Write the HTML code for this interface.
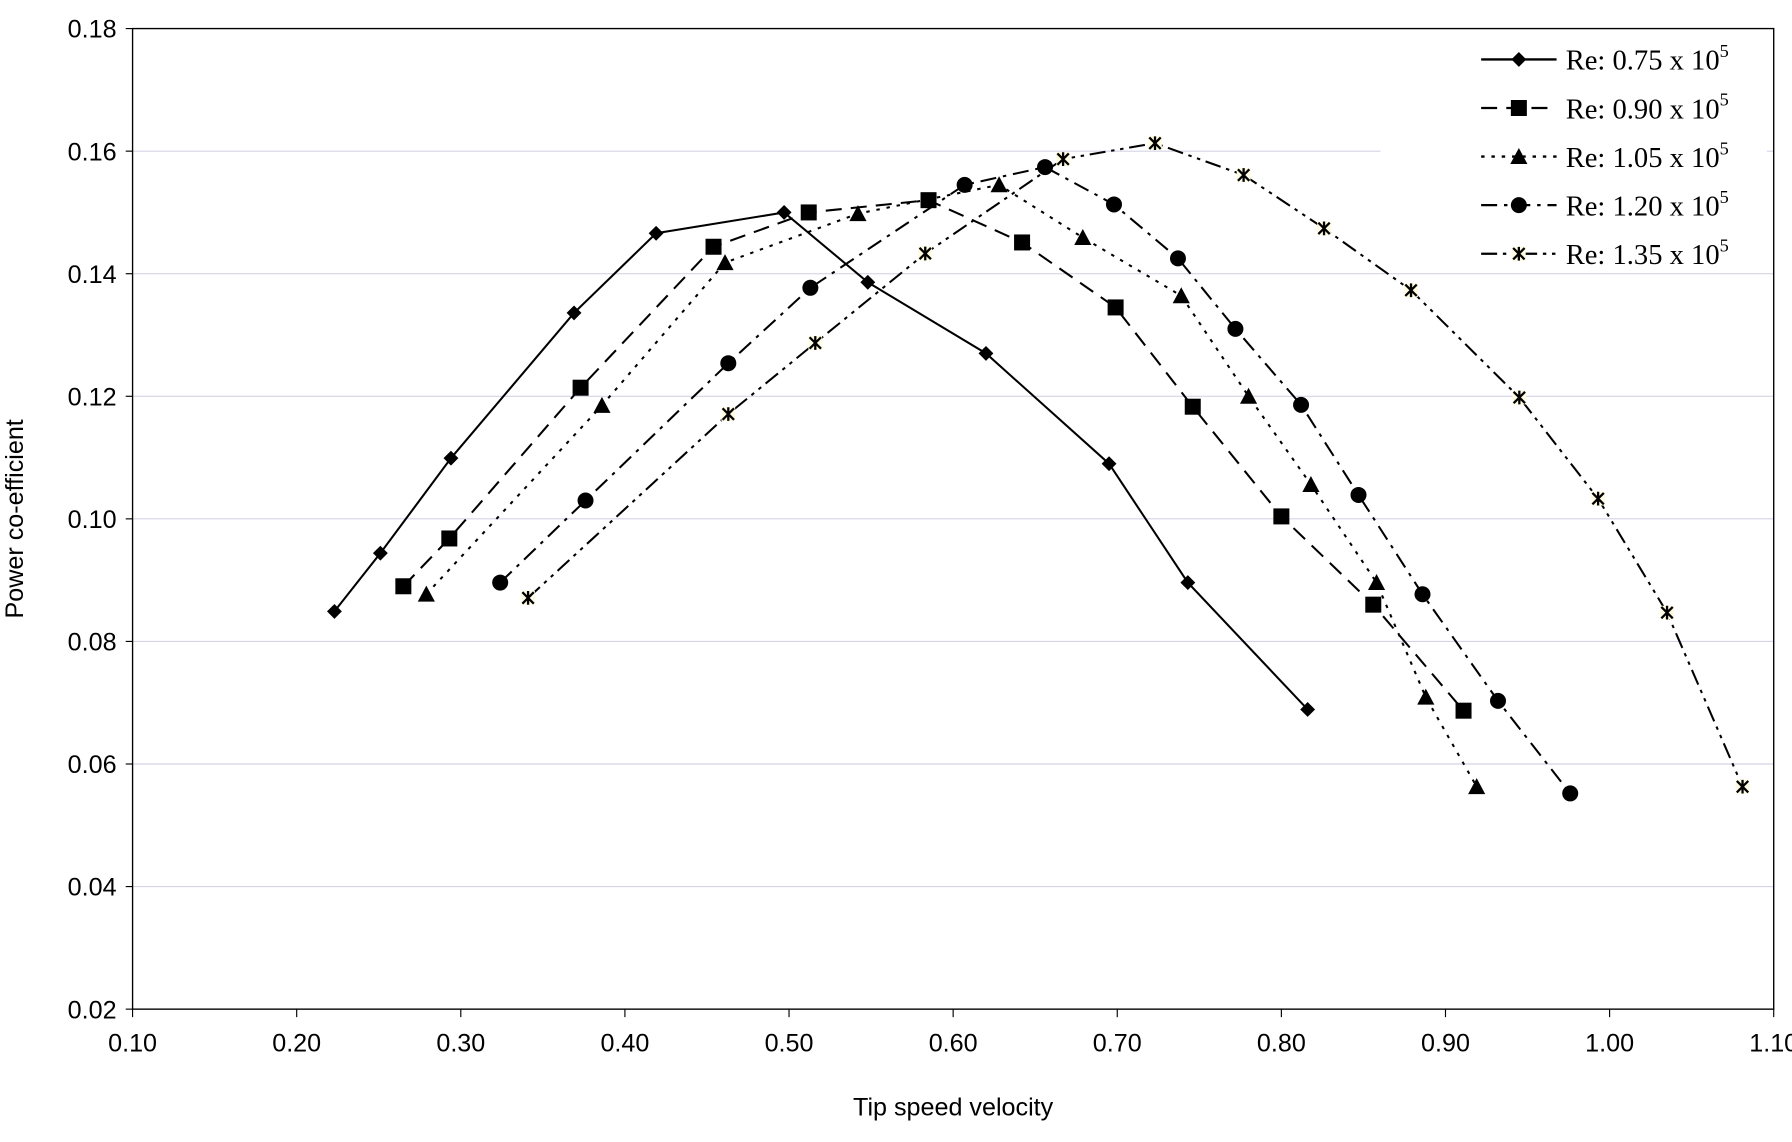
<!DOCTYPE html>
<html><head><meta charset="utf-8"><style>
html,body{margin:0;padding:0;background:#fff;}
svg{display:block;}
.tick{font-family:"Liberation Sans",sans-serif;font-size:22px;fill:#000;}
.leg{font-family:"Liberation Serif",serif;font-size:25px;fill:#000;}
</style></head><body>
<svg id="chart" width="1792" height="1142" viewBox="0 0 1568 999.25" xmlns="http://www.w3.org/2000/svg">
<g id="grid"></g>
<rect x="1208" y="30" width="338" height="196" fill="#fff"/>
<rect x="116" y="25" width="1436" height="858" fill="none" stroke="#000" stroke-width="1.2"/>
<g id="axes"></g>
<g id="series"></g>
<g id="legend"></g>
<text class="tick" x="834" y="976" text-anchor="middle">Tip speed velocity</text>
<text class="tick" transform="translate(20,454) rotate(-90)" text-anchor="middle">Power co-efficient</text>
</svg>
<script>
const xTicks=[0.10,0.20,0.30,0.40,0.50,0.60,0.70,0.80,0.90,1.00,1.10];
const yTicks=[0.02,0.04,0.06,0.08,0.10,0.12,0.14,0.16,0.18];
const seriesNames=["Re: 0.75 x 10","Re: 0.90 x 10","Re: 1.05 x 10","Re: 1.20 x 10","Re: 1.35 x 10"];
const x1=[0.223,0.251,0.294,0.369,0.419,0.497,0.548,0.620,0.695,0.743,0.816];
const y1=[0.0849,0.0944,0.1099,0.1336,0.1466,0.150,0.1386,0.127,0.109,0.0896,0.0689];
const x2=[0.265,0.293,0.373,0.454,0.512,0.585,0.642,0.699,0.746,0.800,0.856,0.911];
const y2=[0.089,0.0968,0.1214,0.1444,0.150,0.152,0.1451,0.1345,0.1183,0.1004,0.086,0.0687];
const x3=[0.279,0.386,0.461,0.542,0.628,0.679,0.739,0.780,0.818,0.858,0.888,0.919];
const y3=[0.0877,0.1185,0.1418,0.1498,0.1545,0.1459,0.1364,0.120,0.1056,0.0896,0.0709,0.0563];
const x4=[0.324,0.376,0.463,0.513,0.607,0.656,0.698,0.737,0.772,0.812,0.847,0.886,0.932,0.976];
const y4=[0.0896,0.103,0.1254,0.1377,0.1545,0.1574,0.1513,0.1425,0.131,0.1186,0.1039,0.0877,0.0703,0.0552];
const x5=[0.341,0.463,0.516,0.583,0.667,0.723,0.777,0.826,0.879,0.945,0.993,1.035,1.081];
const y5=[0.0871,0.1171,0.1287,0.1433,0.1587,0.1613,0.1561,0.1474,0.1373,0.1198,0.1033,0.0847,0.0563];

const NS="http://www.w3.org/2000/svg";
const L=116,R=1552,T=25,B=883;
function sx(v){return L+(v-0.1)/1.0*(R-L);}
function sy(v){return B-(v-0.02)/0.16*(B-T);}
function mk(tag,attrs,parent){const e=document.createElementNS(NS,tag);for(const k in attrs)e.setAttribute(k,attrs[k]);parent.appendChild(e);return e;}
const grid=document.getElementById('grid'),axes=document.getElementById('axes'),ser=document.getElementById('series'),leg=document.getElementById('legend');
yTicks.forEach(v=>{
  if(v>0.02&&v<0.18){const g=mk('line',{x1:L,x2:R,y1:sy(v),y2:sy(v),stroke:'#d4d4e6','stroke-width':1},grid);
  
  }
  const t=mk('line',{x1:L-6,x2:L,y1:sy(v),y2:sy(v),stroke:'#000'},axes);
  
  
  const tx=mk('text',{x:L-14,y:sy(v)+8,'text-anchor':'end',class:'tick'},axes);tx.textContent=v.toFixed(2);
  
  
});
xTicks.forEach(v=>{
  const t=mk('line',{x1:sx(v),x2:sx(v),y1:B,y2:B+7,stroke:'#000'},axes);
  
  
  const tx=mk('text',{x:sx(v),y:B+37,'text-anchor':'middle',class:'tick'},axes);tx.textContent=v.toFixed(2);
  
  
});
const dashes=["","14,8","3,6","14,6,3,6","14,5,3,5,3,5"];
const markers=["diamond","square","triangle","circle","star"];
function marker(type,x,y,p){
  let e;
  if(type==="diamond")e=mk('polygon',{points:`${x},${y-6.5} ${x+6.5},${y} ${x},${y+6.5} ${x-6.5},${y}`,fill:'#000'},p);
  else if(type==="square")e=mk('rect',{x:x-7,y:y-7,width:14,height:14,fill:'#000'},p);
  else if(type==="triangle")e=mk('polygon',{points:`${x},${y-7.5} ${x+7.5},${y+6.5} ${x-7.5},${y+6.5}`,fill:'#000'},p);
  else if(type==="circle")e=mk('circle',{cx:x,cy:y,r:7,fill:'#000'},p);
  else{e=mk('g',{},p);mk('rect',{x:x-6,y:y-6,width:12,height:12,fill:'#fffbe0'},e);
    mk('path',{d:`M${x-5} ${y-5}L${x+5} ${y+5}M${x+5} ${y-5}L${x-5} ${y+5}M${x} ${y-6}L${x} ${y+6}`,stroke:'#000','stroke-width':2},e);}
  return e;
}
const xs=[x1,x2,x3,x4,x5],ys=[y1,y2,y3,y4,y5];
xs.forEach((xa,i)=>{
  const g=mk('g',{},ser);
  
  
  const pts=xa.map((v,j)=>sx(v)+','+sy(ys[i][j])).join(' ');
  const pl=mk('polyline',{points:pts,fill:'none',stroke:'#000','stroke-width':1.8,'stroke-dasharray':dashes[i]},g);
  
  
  xa.forEach((v,j)=>{const m=marker(markers[i],sx(v),sy(ys[i][j]),g);
    
    });
  const ly=52+i*42.5;
  const lg=mk('g',{},leg);
  
  
  mk('line',{x1:1296,x2:1362,y1:ly,y2:ly,stroke:'#000','stroke-width':2,'stroke-dasharray':dashes[i]},lg);
  marker(markers[i],1329,ly,lg);
  const t=mk('text',{x:1370,y:ly+9,class:'leg'},lg);
  t.textContent=seriesNames[i];
  const s=mk('tspan',{dy:-11,'font-size':16},t);s.textContent='5';
});
</script>
</body></html>
